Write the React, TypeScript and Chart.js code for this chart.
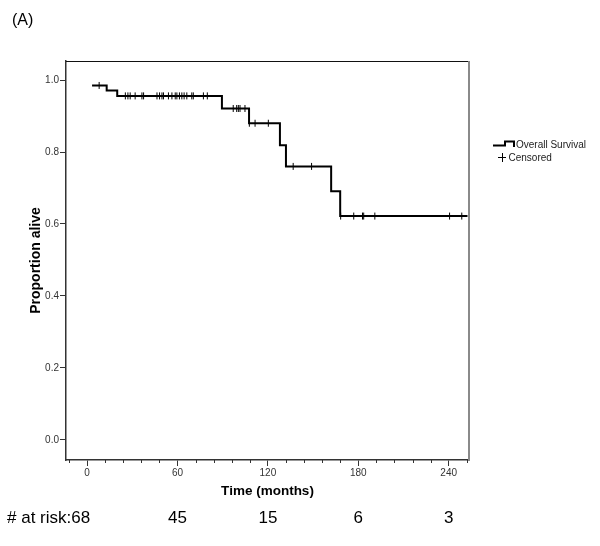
import React, { useEffect, useRef } from "react";
import { Chart, registerables } from "chart.js";
Chart.register(...registerables);

const FONT = "'Liberation Sans', Arial, Helvetica, sans-serif";

// Kaplan-Meier step points (months, proportion alive)
const STEP_TIMES = [3.3, 13, 20, 89.5, 107.5, 128, 132, 162, 168, 252.5];
const STEP_SURVIVAL = [0.985, 0.971, 0.956, 0.921, 0.88, 0.819, 0.76, 0.691, 0.622, 0.622];
// censored observations (months)
const CENSOR_TIMES = [
  8, 25.4, 27.1, 28.6, 31.9, 36.4, 37.5, 46.4, 48.1, 49.7, 50.7, 54, 56.3, 58.5, 59.6,
  61.3, 62.9, 64.4, 66.2, 69.5, 70.5, 77.2, 79.8, 97, 99.3, 100.4, 101.5, 104.8, 107.7,
  111.5, 120.3, 136.8, 149, 168.3, 177, 182.8, 183.6, 191, 240.6, 248.7,
];
const X_MAJOR_TICKS = [0, 60, 120, 180, 240];
const X_MINOR_TICKS = [-12, 12, 24, 36, 48, 72, 84, 96, 108, 132, 144, 156, 168, 192, 204, 216, 228, 252];
const Y_TICKS = [0, 0.2, 0.4, 0.6, 0.8, 1.0];
const AT_RISK_TIMES = [0, 60, 120, 180, 240];
const AT_RISK_COUNTS = [68, 45, 15, 6, 3];

function survivalAt(t: number): number {
  let v = STEP_SURVIVAL[0];
  for (let i = 0; i < STEP_TIMES.length; i++) {
    if (STEP_TIMES[i] <= t) v = STEP_SURVIVAL[i];
  }
  return v;
}

const extrasPlugin = {
  id: "kmExtras",
  afterDraw(chart: any) {
    const { ctx, chartArea, scales } = chart;
    const x = scales.x;
    ctx.save();
    // top border
    ctx.strokeStyle = "#111";
    ctx.lineWidth = 1;
    ctx.beginPath();
    ctx.moveTo(chartArea.left, chartArea.top + 0.5);
    ctx.lineTo(chartArea.right, chartArea.top + 0.5);
    ctx.stroke();
    // right border (gray)
    ctx.strokeStyle = "#8a8a8a";
    ctx.lineWidth = 2;
    ctx.beginPath();
    ctx.moveTo(chartArea.right, chartArea.top);
    ctx.lineTo(chartArea.right, chartArea.bottom + 1);
    ctx.stroke();
    // minor ticks
    ctx.strokeStyle = "#333";
    ctx.lineWidth = 1;
    ctx.beginPath();
    X_MINOR_TICKS.forEach((t) => {
      const px = Math.round(x.getPixelForValue(t)) + 0.5;
      ctx.moveTo(px, chartArea.bottom);
      ctx.lineTo(px, chartArea.bottom + 3);
    });
    ctx.stroke();

    // legend
    const lx = 493;
    ctx.strokeStyle = "#000";
    ctx.lineWidth = 2;
    ctx.beginPath();
    ctx.moveTo(lx, 145.5);
    ctx.lineTo(lx + 12, 145.5);
    ctx.lineTo(lx + 12, 141.5);
    ctx.lineTo(lx + 21, 141.5);
    ctx.lineTo(lx + 21, 147);
    ctx.stroke();
    ctx.lineWidth = 1;
    ctx.beginPath();
    ctx.moveTo(498, 157.5);
    ctx.lineTo(506, 157.5);
    ctx.moveTo(502.5, 153);
    ctx.lineTo(502.5, 162);
    ctx.stroke();
    ctx.fillStyle = "#222";
    ctx.font = `10px ${FONT}`;
    ctx.textBaseline = "middle";
    ctx.textAlign = "left";
    ctx.fillText("Overall Survival", 516, 145);
    ctx.fillText("Censored", 508.5, 158);

    // panel label
    ctx.fillStyle = "#000";
    ctx.font = `16px ${FONT}`;
    ctx.fillText("(A)", 12, 21);

    // numbers at risk
    ctx.font = `17px ${FONT}`;
    ctx.textAlign = "left";
    ctx.fillText("# at risk:" + AT_RISK_COUNTS[0], 7, 518);
    ctx.textAlign = "center";
    for (let i = 1; i < AT_RISK_TIMES.length; i++) {
      ctx.fillText(String(AT_RISK_COUNTS[i]), x.getPixelForValue(AT_RISK_TIMES[i]), 518);
    }
    ctx.restore();
  },
};

export default function App() {
  const ref = useRef<HTMLCanvasElement | null>(null);
  useEffect(() => {
    if (!ref.current) return;
    const curve = STEP_TIMES.map((t, i) => ({ x: t, y: STEP_SURVIVAL[i] }));
    const censored = CENSOR_TIMES.map((t) => ({ x: t, y: survivalAt(t) }));
    const chart = new Chart(ref.current, {
      type: "line",
      data: {
        datasets: [
          {
            label: "Overall Survival",
            data: curve,
            stepped: "before",
            borderColor: "#000",
            borderWidth: 2,
            pointRadius: 0,
            fill: false,
          },
          {
            label: "Censored",
            data: censored,
            showLine: false,
            pointStyle: "line",
            rotation: 90,
            pointRadius: 3.5,
            pointBorderWidth: 1,
            pointBorderColor: "#000",
            pointBackgroundColor: "#000",
          } as any,
        ],
      },
      options: {
        responsive: false,
        animation: false,
        layout: { padding: { top: 61, right: 131, bottom: 46, left: 0 } },
        plugins: { legend: { display: false }, tooltip: { enabled: false }, title: { display: false } },
        scales: {
          x: {
            type: "linear",
            min: -14,
            max: 253.5,
            afterBuildTicks: (s: any) => {
              s.ticks = X_MAJOR_TICKS.map((v) => ({ value: v }));
            },
            afterFit: (s: any) => {
              s.height = 40;
            },
            grid: { drawOnChartArea: false, drawTicks: true, tickLength: 6, color: "#333", lineWidth: 1 },
            border: { display: true, color: "#333", width: 1.5 },
            ticks: {
              color: "#333",
              padding: 1,
              maxRotation: 0,
              autoSkip: false,
              font: { family: FONT, size: 10 },
              callback: (v: any) => String(v),
            },
            title: {
              display: true,
              text: "Time (months)",
              color: "#000",
              font: { family: FONT, size: 13.5, weight: "bold" },
              padding: { top: 0, bottom: 1 },
            },
          },
          y: {
            type: "linear",
            min: -0.056,
            max: 1.053,
            afterBuildTicks: (s: any) => {
              s.ticks = Y_TICKS.map((v) => ({ value: v }));
            },
            afterFit: (s: any) => {
              s.width = 66;
            },
            grid: { drawOnChartArea: false, drawTicks: true, tickLength: 6, color: "#333", lineWidth: 1 },
            border: { display: true, color: "#333", width: 1.5 },
            ticks: {
              color: "#333",
              padding: 1,
              autoSkip: false,
              font: { family: FONT, size: 10 },
              callback: (v: any) => Number(v).toFixed(1),
            },
            title: {
              display: true,
              text: "Proportion alive",
              color: "#000",
              font: { family: FONT, size: 14, weight: "bold" },
              padding: { top: 28, bottom: 0 },
            },
          },
        },
      },
      plugins: [extrasPlugin],
    });
    return () => chart.destroy();
  }, []);
  return (
    <div style={{ position: "absolute", left: 0, top: 0, width: 600, height: 546, background: "#fff" }}>
      <canvas ref={ref} width={600} height={546} style={{ display: "block" }} />
    </div>
  );
}
